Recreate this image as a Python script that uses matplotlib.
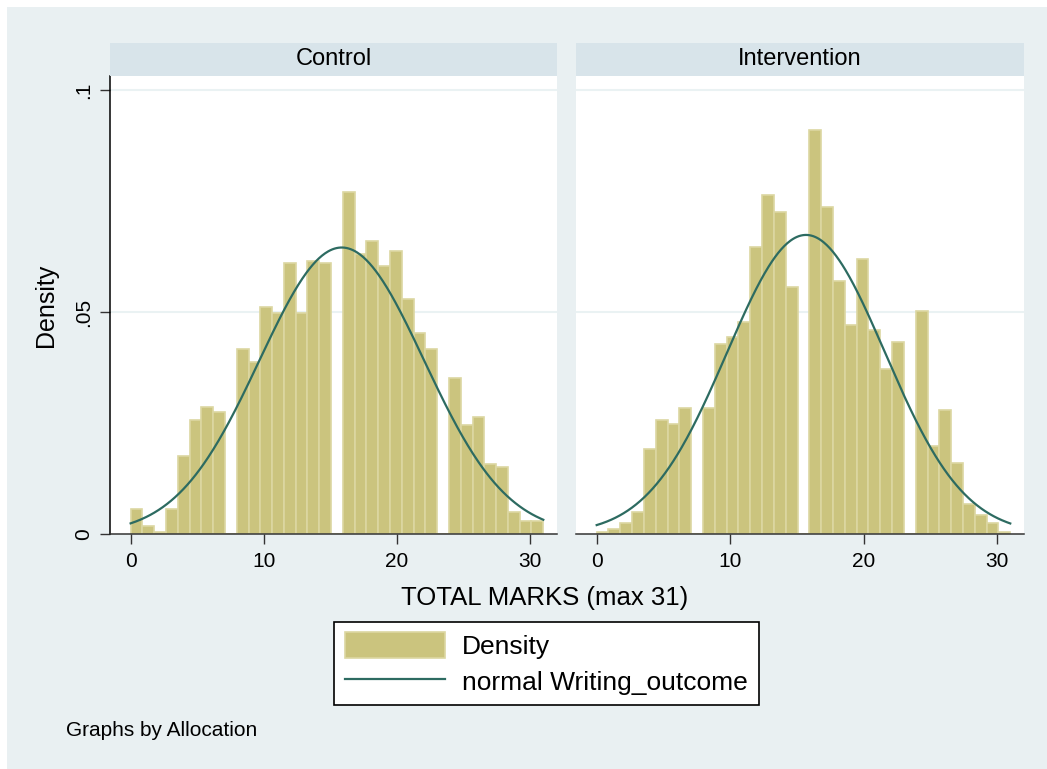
import matplotlib

matplotlib.use("Agg")
import matplotlib.pyplot as plt
import numpy as np
from matplotlib.lines import Line2D
from matplotlib.patches import Patch, Rectangle

plt.rcParams["font.family"] = ["Liberation Sans", "DejaVu Sans"]

# histogram: 35 bins over 0..31, density heights
BIN_LO, BIN_HI, N_BINS = 0, 31, 35
control_density = [
    0.0056, 0.0018, 0.0005, 0.0056, 0.0176, 0.0257, 0.0287, 0.0276, 0.0,
    0.0416, 0.0388, 0.0511, 0.0497, 0.0610, 0.0497, 0.0616, 0.0610, 0.0,
    0.0770, 0.0631, 0.0661, 0.0605, 0.0637, 0.0529, 0.0452, 0.0416, 0.0,
    0.0351, 0.0245, 0.0263, 0.0157, 0.0150, 0.0049, 0.0030, 0.0030,
]
intervention_density = [
    0.0005, 0.0011, 0.0024, 0.0049, 0.0191, 0.0258, 0.0247, 0.0285, 0.0,
    0.0285, 0.0428, 0.0445, 0.0477, 0.0646, 0.0763, 0.0726, 0.0557, 0.0,
    0.0911, 0.0737, 0.0571, 0.0470, 0.0620, 0.0459, 0.0371, 0.0433, 0.0,
    0.0502, 0.0198, 0.0279, 0.0159, 0.0068, 0.0043, 0.0024, 0.0005,
]
# fitted normal overlay (mean, sd)
control_normal = (15.86, 6.18)
intervention_normal = (15.69, 5.92)

panels = [
    ("Control", control_density, control_normal),
    ("Intervention", intervention_density, intervention_normal),
]
y_ticks = [0, 0.05, 0.1]
y_tick_labels = ["0", ".05", ".1"]
x_ticks = [0, 10, 20, 30]

BAR_FACE = "#CBC47E"
BAR_EDGE = "#DCD7A2"
LINE_COLOR = "#2D6B61"
OUTER_BG = "#E9F0F2"
STRIP_BG = "#D8E4EA"
GRID_COLOR = "#EAF2F3"
AXIS_COLOR = "#333333"

W, H = 1047, 769
fig = plt.figure(figsize=(W / 100, H / 100), dpi=100)
fig.patch.set_facecolor("white")
fig.patches.append(
    Rectangle((7 / W, -0.01), 1.02 - 7 / W, 1.01 - 7 / H,
              transform=fig.transFigure, facecolor=OUTER_BG,
              edgecolor="none", zorder=-10)
)


def px_axes(x0, y0, x1, y1):
    return fig.add_axes([x0 / W, 1 - y1 / H, (x1 - x0) / W, (y1 - y0) / H])


edges = np.linspace(BIN_LO, BIN_HI, N_BINS + 1)
widths = np.diff(edges)
xs = np.linspace(BIN_LO, BIN_HI, 400)

panel_px = [(110, 557), (576, 1024)]
for i, ((title, dens, (mu, sd)), (x0, x1)) in enumerate(zip(panels, panel_px)):
    ax = px_axes(x0, 76, x1, 534)
    ax.set_facecolor("white")
    ax.bar(edges[:-1], dens, width=widths, align="edge", color=BAR_FACE,
           edgecolor=BAR_EDGE, linewidth=1.2, zorder=2)
    pdf = np.exp(-0.5 * ((xs - mu) / sd) ** 2) / (sd * np.sqrt(2 * np.pi))
    ax.plot(xs, pdf, color=LINE_COLOR, linewidth=1.6, zorder=3)

    ax.set_xlim(-1.55, 32.03)
    ax.set_ylim(0, 0.1032)
    for yv in y_ticks[1:]:
        ax.axhline(yv, color=GRID_COLOR, linewidth=1.5, zorder=1)

    ax.set_xticks(x_ticks)
    ax.set_xticklabels([str(v) for v in x_ticks], fontsize=15)
    ax.tick_params(axis="x", direction="out", length=7, width=1,
                   color=AXIS_COLOR, pad=6)
    for s in ["top", "right"]:
        ax.spines[s].set_visible(False)
    ax.spines["bottom"].set_color(AXIS_COLOR)
    ax.spines["bottom"].set_linewidth(1.1)

    if i == 0:
        ax.set_yticks(y_ticks)
        ax.set_yticklabels(y_tick_labels, fontsize=15, rotation=90, va="center")
        ax.tick_params(axis="y", direction="out", length=7, width=1,
                       color=AXIS_COLOR, pad=5)
        ax.spines["left"].set_color("black")
        ax.spines["left"].set_linewidth(1.1)
        ax.set_ylabel("Density", fontsize=18, labelpad=12)
    else:
        ax.set_yticks([])
        ax.spines["left"].set_visible(False)

    # panel strip
    fig.patches.append(
        Rectangle((x0 / W, 1 - 76 / H), (x1 - x0) / W, 33 / H,
                  transform=fig.transFigure, facecolor=STRIP_BG,
                  edgecolor="none")
    )
    fig.text((x0 + x1) / 2 / W, 1 - 59 / H, title, fontsize=17,
             ha="center", va="center")

fig.text(545 / W, 1 - 598 / H, "TOTAL MARKS (max 31)", fontsize=18.5,
         ha="center", va="center")

handles = [
    Patch(facecolor=BAR_FACE, edgecolor=BAR_EDGE, linewidth=1.2),
    Line2D([0], [0], color=LINE_COLOR, linewidth=1.6),
]
leg = fig.legend(
    handles, ["Density", "normal Writing_outcome"],
    loc="center", bbox_to_anchor=(546.5 / W, 1 - 663.5 / H),
    fontsize=19, frameon=True, fancybox=False, framealpha=1,
    handlelength=3.8, handleheight=1.1, handletextpad=0.65,
    borderpad=0.4, borderaxespad=0, labelspacing=0.35,
)
leg.get_frame().set_edgecolor("black")
leg.get_frame().set_linewidth(1.2)
leg.get_frame().set_facecolor("white")

fig.text(66 / W, 1 - 730 / H, "Graphs by Allocation", fontsize=15,
         ha="left", va="center")

fig.savefig("out.png", dpi=100, facecolor=fig.get_facecolor())
